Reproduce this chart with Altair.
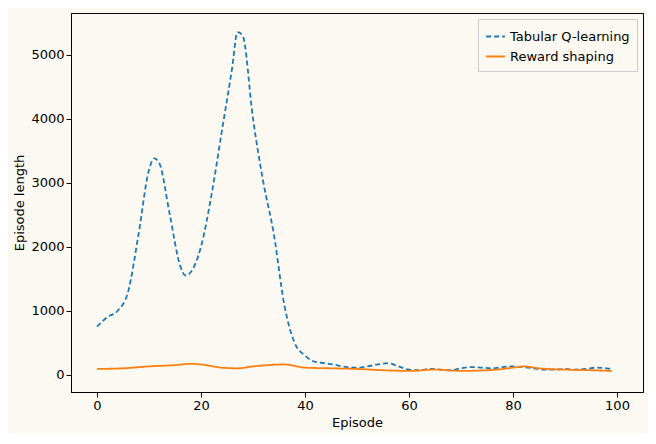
import altair as alt
import pandas as pd

q_ep = [0,2,4,6,8,10,11,12,14,16,17,18,20,22,24,26,27,28,30,32,34,36,38,40,42,44,46,48,50,52,54,56,58,60,62,64,66,68,70,72,74,76,78,80,82,84,86,88,90,92,94,96,98,99]
q_len = [750,900,1000,1300,2200,3200,3380,3300,2500,1700,1550,1600,2000,2800,3800,4800,5350,5300,4000,3000,2200,1100,500,300,200,180,150,120,110,130,160,180,130,80,70,90,80,70,100,120,110,100,120,130,120,100,80,80,90,80,90,110,100,90]
r_ep = [0,5,10,15,18,20,24,27,30,36,40,45,50,55,60,65,70,75,80,82,85,90,95,99]
r_len = [90,100,130,150,170,160,110,100,130,160,110,100,90,70,60,80,60,70,110,130,100,80,70,60]

names = ["Tabular Q-learning", "Reward shaping"]
df = pd.concat([
    pd.DataFrame({"Episode": q_ep, "len": q_len, "series": names[0]}),
    pd.DataFrame({"Episode": r_ep, "len": r_len, "series": names[1]}),
])

chart = alt.Chart(df).mark_line(interpolate="monotone", strokeWidth=1.8).encode(
    x=alt.X("Episode:Q", scale=alt.Scale(domain=[-5, 105], nice=False),
            axis=alt.Axis(values=[0,20,40,60,80,100], grid=False, title="Episode")),
    y=alt.Y("len:Q", scale=alt.Scale(domain=[-270, 5650], nice=False),
            axis=alt.Axis(values=[0,1000,2000,3000,4000,5000], format="d", grid=False, title="Episode length")),
    color=alt.Color("series:N", scale=alt.Scale(domain=names, range=["#1f77b4", "#ff7f0e"]),
                    legend=alt.Legend(title=None, orient="top-right", strokeColor="#cccccc",
                                      fillColor="#fcf9f2", padding=7, labelFontSize=13, offset=6,
                                      symbolType="stroke", symbolStrokeWidth=2, symbolSize=350)),
    strokeDash=alt.StrokeDash("series:N", scale=alt.Scale(domain=names, range=[[5, 3], [1, 0]]), legend=None),
).properties(width=640, height=426, background="#fcf9f2",
             autosize=alt.AutoSizeParams(type="fit", contains="padding")).configure_view(
    stroke="black", strokeWidth=1
).configure_axis(
    labelFontSize=13, titleFontSize=13, labelColor="black", titleColor="black",
    domainColor="black", tickColor="black", titleFontWeight="normal", labelFont="DejaVu Sans", titleFont="DejaVu Sans"
).configure_legend(labelFont="DejaVu Sans")

chart.save("out.html", embed_options={"renderer": "svg", "actions": False})
